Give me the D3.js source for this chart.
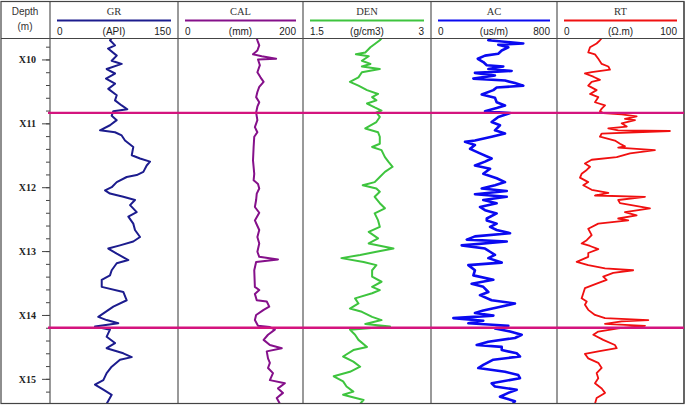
<!DOCTYPE html>
<html>
<head>
<meta charset="utf-8">
<script src="https://cdn.jsdelivr.net/npm/d3@7/dist/d3.min.js"></script>
<style>
  body { margin: 0; background: #fff; }
  svg { display: block; }
</style>
</head>
<body>
<div id="chart"></div>
<script>
var width = 685, height = 405;

// track headers
var trackNames = ["GR", "CAL", "DEN", "AC", "RT"];
var trackUnits = ["(API)", "(mm)", "(g/cm3)", "(us/m)", "(\u03a9.m)"];
var trackMin = [0, 0, 1.5, 0, 0];
var trackMax = [150, 200, 3, 800, 100];
var trackColors = ["#1c1c8e", "#85108a", "#3ec43e", "#0a0af0", "#f01010"];
var depthTicks = [10, 11, 12, 13, 14, 15];
var markerDepths = [10.836, 14.2];

// curves (depth in units after "X", value in track units)
var grDepth = [9.67, 9.70, 9.78, 9.83, 9.94, 10.02, 10.07, 10.15, 10.22, 10.30, 10.38, 10.46, 10.56, 10.64, 10.72, 10.78, 10.81, 10.88, 10.95, 11.03, 11.11, 11.14, 11.19, 11.27, 11.37, 11.50, 11.55, 11.60, 11.66, 11.76, 11.81, 11.84, 11.92, 12.00, 12.05, 12.10, 12.15, 12.20, 12.28, 12.39, 12.46, 12.57, 12.67, 12.78, 12.85, 12.91, 12.96, 13.04, 13.14, 13.19, 13.30, 13.38, 13.45, 13.56, 13.64, 13.77, 13.87, 14.03, 14.08, 14.13, 14.18, 14.23, 14.34, 14.44, 14.52, 14.60, 14.66, 14.70, 14.81, 14.91, 15.02, 15.09, 15.17, 15.25, 15.39];
var grValue = [72, 70.3, 76.2, 68.0, 78.2, 72.3, 84.0, 66.4, 76.2, 65.6, 76.2, 68.3, 78.2, 76.2, 84.0, 90.6, 74.2, 72.3, 78.2, 70.3, 58.6, 76.2, 84.0, 87.9, 97.6, 95.8, 105.5, 117.2, 113.3, 109.4, 101.6, 89.9, 78.2, 72.3, 64.5, 70.3, 85.9, 99.6, 93.8, 101.6, 91.8, 97.6, 99.6, 105.5, 97.6, 82.0, 68.3, 78.2, 91.8, 78.2, 72.3, 70.3, 60.6, 60.6, 85.9, 89.9, 74.2, 56.6, 66.4, 80.0, 52.7, 70.3, 66.4, 76.2, 66.4, 85.9, 95.8, 82.0, 72.3, 66.4, 62.5, 52.7, 62.5, 72.3, 66.4];

var calDepth = [9.67, 9.70, 9.78, 9.86, 9.92, 9.95, 9.99, 10.00, 10.09, 10.20, 10.28, 10.35, 10.43, 10.51, 10.59, 10.67, 10.74, 10.83, 10.95, 11.06, 11.14, 11.21, 11.37, 11.58, 11.79, 11.89, 11.95, 12.02, 12.10, 12.20, 12.31, 12.40, 12.52, 12.67, 12.78, 12.88, 13.01, 13.09, 13.13, 13.17, 13.30, 13.56, 13.61, 13.67, 13.77, 13.79, 13.87, 13.92, 14.00, 14.08, 14.17, 14.19, 14.23, 14.31, 14.39, 14.47, 14.52, 14.57, 14.68, 14.75, 14.83, 14.91, 15.02, 15.07, 15.15, 15.22, 15.30, 15.39];
var calValue = [126, 127, 130, 127, 120, 134, 157, 128, 131, 127, 132, 137, 130, 127, 125, 130, 127, 125, 127, 123, 127, 122, 121, 120, 122, 121, 128, 130, 126, 125, 123, 130, 123, 130, 127, 130, 127, 130, 160, 125, 122, 123, 130, 123, 126, 142, 146, 137, 125, 123, 128, 147, 155, 144, 137, 147, 166, 142, 144, 147, 144, 152, 147, 171, 160, 168, 158, 163];

var denDepth = [9.67, 9.70, 9.81, 9.89, 9.92, 9.95, 10.02, 10.07, 10.11, 10.15, 10.20, 10.28, 10.35, 10.41, 10.48, 10.54, 10.59, 10.64, 10.69, 10.75, 10.80, 10.83, 10.90, 10.98, 11.08, 11.14, 11.21, 11.32, 11.37, 11.42, 11.53, 11.60, 11.68, 11.76, 11.84, 11.92, 11.97, 12.02, 12.07, 12.15, 12.25, 12.33, 12.41, 12.52, 12.62, 12.70, 12.80, 12.88, 12.96, 13.01, 13.06, 13.11, 13.17, 13.22, 13.30, 13.40, 13.48, 13.56, 13.61, 13.66, 13.74, 13.82, 13.90, 13.95, 14.03, 14.08, 14.14, 14.18, 14.23, 14.31, 14.39, 14.50, 14.55, 14.65, 14.73, 14.81, 14.89, 14.96, 15.04, 15.12, 15.20, 15.25, 15.33, 15.39];
var denValue = [2.42, 2.40, 2.29, 2.23, 2.12, 2.27, 2.19, 2.29, 2.19, 2.40, 2.19, 2.15, 2.05, 2.15, 2.25, 2.38, 2.31, 2.36, 2.25, 2.34, 2.42, 2.36, 2.40, 2.36, 2.23, 2.38, 2.40, 2.40, 2.31, 2.42, 2.46, 2.50, 2.55, 2.46, 2.40, 2.34, 2.20, 2.36, 2.40, 2.34, 2.40, 2.46, 2.34, 2.38, 2.40, 2.27, 2.38, 2.27, 2.56, 2.36, 2.17, 1.95, 2.21, 2.36, 2.31, 2.31, 2.42, 2.31, 2.40, 2.31, 2.11, 2.15, 2.05, 2.19, 2.31, 2.42, 2.23, 2.52, 2.05, 2.11, 2.15, 2.25, 2.09, 1.97, 2.09, 2.17, 2.05, 1.86, 1.97, 2.01, 2.09, 1.97, 2.21, 2.17];

var acDepth = [9.67, 9.70, 9.75, 9.77, 9.81, 9.86, 9.91, 9.94, 9.99, 10.04, 10.09, 10.11, 10.15, 10.18, 10.21, 10.25, 10.30, 10.33, 10.37, 10.41, 10.44, 10.48, 10.55, 10.60, 10.67, 10.72, 10.76, 10.81, 10.84, 10.90, 10.98, 11.03, 11.11, 11.16, 11.21, 11.27, 11.29, 11.34, 11.40, 11.47, 11.55, 11.60, 11.66, 11.71, 11.79, 11.86, 11.92, 11.97, 12.02, 12.06, 12.11, 12.15, 12.20, 12.25, 12.31, 12.36, 12.41, 12.49, 12.52, 12.57, 12.62, 12.67, 12.72, 12.77, 12.82, 12.85, 12.91, 12.96, 13.01, 13.06, 13.11, 13.18, 13.22, 13.30, 13.38, 13.45, 13.51, 13.56, 13.64, 13.69, 13.77, 13.82, 13.88, 13.93, 13.97, 14.01, 14.05, 14.09, 14.13, 14.17, 14.21, 14.26, 14.31, 14.36, 14.42, 14.47, 14.50, 14.55, 14.60, 14.65, 14.70, 14.78, 14.83, 14.89, 14.94, 14.99, 15.07, 15.12, 15.17, 15.22, 15.28, 15.35, 15.39];
var acValue = [380, 364, 586, 427, 491, 449, 427, 343, 297, 332, 354, 459, 364, 512, 279, 406, 269, 470, 533, 586, 417, 396, 322, 406, 417, 470, 417, 343, 502, 427, 385, 438, 406, 470, 385, 279, 216, 279, 248, 311, 385, 343, 279, 375, 332, 417, 470, 406, 322, 481, 279, 481, 332, 417, 311, 343, 417, 354, 354, 417, 375, 417, 502, 279, 227, 481, 195, 343, 375, 406, 364, 449, 237, 279, 269, 396, 258, 332, 364, 311, 385, 533, 427, 332, 279, 396, 142, 332, 237, 491, 406, 502, 576, 533, 364, 290, 449, 449, 544, 565, 396, 332, 300, 470, 554, 565, 385, 406, 544, 491, 438, 533, 520];

var rtDepth = [9.67, 9.70, 9.75, 9.81, 9.89, 9.92, 9.99, 10.07, 10.11, 10.16, 10.20, 10.22, 10.27, 10.32, 10.35, 10.41, 10.48, 10.54, 10.59, 10.67, 10.72, 10.77, 10.81, 10.84, 10.86, 10.89, 10.93, 10.95, 11.00, 11.05, 11.08, 11.11, 11.12, 11.16, 11.21, 11.27, 11.32, 11.36, 11.38, 11.42, 11.47, 11.53, 11.57, 11.63, 11.68, 11.73, 11.79, 11.85, 11.92, 11.97, 12.04, 12.09, 12.13, 12.15, 12.20, 12.25, 12.33, 12.39, 12.44, 12.49, 12.52, 12.57, 12.65, 12.75, 12.83, 12.88, 12.92, 12.97, 13.03, 13.09, 13.17, 13.22, 13.27, 13.30, 13.34, 13.40, 13.45, 13.51, 13.58, 13.66, 13.74, 13.79, 13.84, 13.92, 14.00, 14.05, 14.08, 14.10, 14.14, 14.17, 14.21, 14.26, 14.31, 14.39, 14.47, 14.52, 14.57, 14.61, 14.68, 14.75, 14.83, 14.91, 14.99, 15.07, 15.15, 15.22, 15.30, 15.39];
var rtValue = [35, 33.8, 31.2, 26.0, 24.6, 29.9, 32.5, 35.2, 40.4, 41.7, 27.3, 22.0, 28.6, 33.8, 27.3, 24.6, 31.2, 26.0, 32.5, 29.9, 37.8, 35.2, 33.8, 36.4, 50.9, 62.7, 53.5, 61.4, 50.9, 54.9, 40.4, 48.2, 88.9, 35.2, 33.8, 45.6, 49.6, 53.5, 48.2, 77.1, 57.5, 47.0, 27.3, 22.0, 26.0, 23.4, 19.4, 18.1, 24.6, 20.7, 27.3, 40.4, 29.9, 69.3, 48.2, 49.6, 73.2, 53.5, 62.7, 48.2, 56.1, 32.5, 24.6, 27.3, 23.4, 19.4, 26.0, 32.5, 24.6, 24.6, 15.5, 24.6, 37.8, 60.0, 44.3, 36.4, 39.1, 31.2, 22.0, 20.7, 19.4, 23.4, 22.0, 24.6, 29.9, 37.8, 71.9, 50.9, 37.8, 69.3, 48.2, 32.5, 28.6, 36.4, 45.6, 47.0, 32.5, 22.0, 24.6, 32.5, 35.2, 31.2, 32.5, 29.9, 35.2, 37.8, 31.2, 29.9];

var curves = [
  {depth: grDepth, value: grValue, w: 2},
  {depth: calDepth, value: calValue, w: 2},
  {depth: denDepth, value: denValue, w: 2},
  {depth: acDepth, value: acValue, w: 2.6},
  {depth: rtDepth, value: rtValue, w: 1.8}
];

// layout
var edges = [50, 178, 303, 431, 557, 684];
var plotTop = 38.5, plotBottom = 403.5, headTop = 1.5;

var svg = d3.select("#chart").append("svg")
  .attr("width", width)
  .attr("height", height);

var y = d3.scaleLinear().domain([9.672, 15.386]).range([plotTop, plotBottom]);

svg.append("defs").append("clipPath").attr("id", "clip")
  .append("rect").attr("x", edges[0]).attr("y", plotTop)
  .attr("width", edges[5] - edges[0]).attr("height", plotBottom - plotTop);

// header texts
svg.append("text").attr("x", 25).attr("y", 15).attr("text-anchor", "middle")
  .style("font", "10px Arial, 'Liberation Sans', sans-serif").style("fill", "#333").text("Depth");
svg.append("text").attr("x", 25).attr("y", 30).attr("text-anchor", "middle")
  .style("font", "10px Arial, 'Liberation Sans', sans-serif").style("fill", "#333").text("(m)");

trackNames.forEach(function(name, i) {
  var l = edges[i], r = edges[i + 1];
  var g = svg.append("g").attr("class", "head");
  g.append("text").attr("x", (l + r) / 2).attr("y", 15).attr("text-anchor", "middle")
    .style("font", "10.5px 'Times New Roman', 'Liberation Serif', serif").style("fill", "#333").text(name);
  g.append("line").attr("x1", l + 7).attr("x2", r - 7).attr("y1", 20.5).attr("y2", 20.5)
    .attr("stroke", trackColors[i]).attr("stroke-width", 2);
  var f = "10px Arial, 'Liberation Sans', sans-serif";
  g.append("text").attr("x", l + 7).attr("y", 35).style("font", f).style("fill", "#222").text(trackMin[i]);
  g.append("text").attr("x", (l + r) / 2).attr("y", 35).attr("text-anchor", "middle").style("font", f).style("fill", "#222").text(trackUnits[i]);
  g.append("text").attr("x", r - 7).attr("y", 35).attr("text-anchor", "end").style("font", f).style("fill", "#222").text(trackMax[i]);
});

// depth axis
var minor = d3.range(9.8, 15.3, 0.2);
svg.append("g").attr("transform", "translate(" + edges[0] + ",0)")
  .call(d3.axisLeft(y).tickValues(minor).tickSize(4).tickFormat(""))
  .call(function(g) { g.select(".domain").remove(); g.selectAll("line").attr("stroke", "#444"); });
svg.append("g").attr("transform", "translate(" + edges[0] + ",0)")
  .call(d3.axisLeft(y).tickValues(depthTicks).tickSize(8).tickPadding(6).tickFormat(function(d) { return "X" + d; }))
  .call(function(g) {
    g.select(".domain").remove();
    g.selectAll("line").attr("stroke", "#444");
    g.selectAll("text").style("font", "bold 10px 'Times New Roman', 'Liberation Serif', serif").style("fill", "#222");
  });

// curves
curves.forEach(function(c, i) {
  var x = d3.scaleLinear().domain([trackMin[i], trackMax[i]]).range([edges[i], edges[i + 1]]);
  var pts = c.depth.map(function(d, k) { return [d, c.value[k]]; });
  var line = d3.line().x(function(p) { return x(p[1]); }).y(function(p) { return y(p[0]); });
  svg.append("path").datum(pts)
    .attr("clip-path", "url(#clip)")
    .attr("d", line)
    .attr("fill", "none")
    .attr("stroke", trackColors[i])
    .attr("stroke-width", c.w)
    .attr("stroke-linejoin", "round");
});

// grid frame
svg.append("line").attr("x1", 1).attr("x2", width - 1).attr("y1", plotTop).attr("y2", plotTop)
  .attr("stroke", "#444").attr("stroke-width", 1.2);
edges.forEach(function(e) {
  svg.append("line").attr("x1", e).attr("x2", e).attr("y1", headTop).attr("y2", plotBottom)
    .attr("stroke", "#555").attr("stroke-width", 1.2);
});
svg.append("rect").attr("x", 1).attr("y", headTop).attr("width", width - 2).attr("height", plotBottom - headTop)
  .attr("fill", "none").attr("stroke", "#444").attr("stroke-width", 1.2);

// marker lines
svg.selectAll(".marker").data(markerDepths).enter().append("line")
  .attr("class", "marker")
  .attr("x1", edges[0] - 2).attr("x2", width - 1)
  .attr("y1", function(d) { return y(d); }).attr("y2", function(d) { return y(d); })
  .attr("stroke", "#d4147e").attr("stroke-width", 2.4);
</script>
</body>
</html>
